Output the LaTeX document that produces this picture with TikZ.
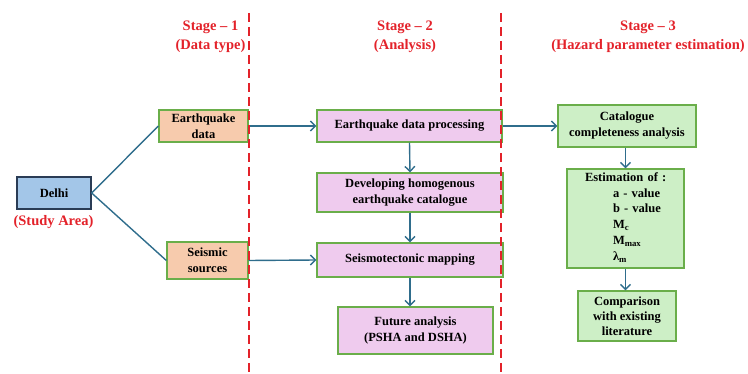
\documentclass[tikz,border=0pt]{standalone}
\usepackage{fontspec}
\setmainfont{Liberation Serif}[Ligatures=TeX]
\usetikzlibrary{arrows.meta}
\definecolor{redline}{HTML}{E3222A}
\definecolor{conn}{HTML}{2F6D8C}
\definecolor{gborder}{HTML}{6AAE4A}
\definecolor{salmon}{HTML}{F7CBAD}
\definecolor{pinkfill}{HTML}{EFCBEE}
\definecolor{greenfill}{HTML}{CDEFC6}
\definecolor{bluefill}{HTML}{A3C6E8}
\definecolor{blueborder}{HTML}{2A3C55}
\tikzset{
  box/.style={draw=gborder, line width=1.3pt, inner sep=0pt, align=center,
    font=\rmfamily\fontsize{12.5}{16}\selectfont\bfseries, text=black},
  databox/.style={box, fill=salmon},
  anbox/.style={box, fill=pinkfill},
  hzbox/.style={box, fill=greenfill},
  stagetxt/.style={text=redline, align=center, font=\rmfamily\fontsize{14.5}{19}\selectfont\bfseries, inner sep=0pt},
  conline/.style={draw=conn, line width=1.4pt},
  conarrow/.style={conline, -{Straight Barb[length=5pt,width=10pt]}},
  sep/.style={draw=redline, line width=2.6pt, dash pattern=on 9pt off 5pt}
}
\begin{document}
\begin{tikzpicture}[x=1pt,y=-1pt]
\useasboundingbox (0,0) rectangle (748,374);
% stage separators
\coordinate (s1t) at (249,13);
\coordinate (s1b) at (249,374);
\coordinate (s2t) at (501,13);
\coordinate (s2b) at (501,374);
% headings
\node[stagetxt] (h1) at (210.5,36.5) {Stage -- 1\\(Data type)};
\node[stagetxt] (h2) at (405,36.5) {Stage -- 2\\(Analysis)};
\node[stagetxt] (h3) at (648,36.5) {Stage -- 3\\(Hazard parameter estimation)};
% boxes
\node[box, draw=blueborder, fill=bluefill, minimum width=74pt, minimum height=32pt] (delhi) at (54,193) {Delhi};
\node[stagetxt] (study) at (53.5,222) {(Study Area)};
\node[databox, minimum width=89pt, minimum height=32pt] (eqd) at (203.5,126) {Earthquake\\data};
\node[databox, minimum width=81pt, minimum height=37pt] (seis) at (207.5,260.5) {Seismic\\sources};
\node[anbox, minimum width=185pt, minimum height=32pt] (proc) at (409.5,126) {Earthquake data processing};
\node[anbox, minimum width=186pt, minimum height=39pt] (homog) at (410,192.5) {Developing homogenous\\earthquake catalogue};
\node[anbox, minimum width=186pt, minimum height=34pt] (seismo) at (410,260) {Seismotectonic mapping};
\node[anbox, minimum width=155pt, minimum height=47pt] (future) at (415.5,330.5) {Future analysis\\(PSHA and DSHA)};
\node[hzbox, minimum width=138pt, minimum height=42pt] (cat) at (627,126) {Catalogue\\completeness analysis};
\node[hzbox, minimum width=117pt, minimum height=99pt, text width=117pt, align=left,
  font=\rmfamily\fontsize{12.5}{15.8}\selectfont\bfseries] (est) at (625.5,218.5)
  {\hspace*{18pt}Estimation of :\\
   \hspace*{46pt}a - value\\
   \hspace*{46pt}b - value\\
   \hspace*{46pt}M\textsubscript{c}\\
   \hspace*{46pt}M\textsubscript{max}\\
   \hspace*{46pt}λ\textsubscript{m}\rule[-4pt]{0pt}{1pt}};
\node[hzbox, minimum width=98pt, minimum height=50pt, font=\rmfamily\fontsize{12.5}{15}\selectfont\bfseries] (comp) at (627,316) {Comparison\\with existing\\literature};
% connectors
\draw[conline] (delhi.east) -- (eqd.west);
\draw[conline] (delhi.east) -- (seis.west);
\draw[conarrow] (eqd.east) -- (proc.west);
\draw[conarrow] (seis.east) -- (seismo.west);
\draw[conarrow] (proc.south) -- (homog.north);
\draw[conarrow] (homog.south) -- (seismo.north);
\draw[conarrow] (seismo.south) -- (seismo.south |- future.north);
\draw[conarrow] (proc.east) -- (cat.west);
\draw[conarrow] (est.north |- cat.south) -- (est.north);
\draw[conarrow] (est.south) -- (est.south |- comp.north);
% separators on top
\draw[sep] (s1t) -- (s1b);
\draw[sep] (s2t) -- (s2b);
\end{tikzpicture}
\end{document}
